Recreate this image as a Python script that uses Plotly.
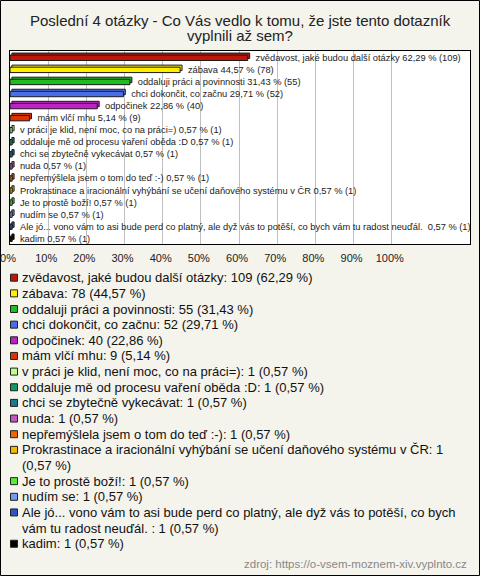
import textwrap
import plotly.graph_objects as go

# ---------------- data ----------------
labels = [
    "zvědavost, jaké budou další otázky",
    "zábava",
    "oddaluji práci a povinnosti",
    "chci dokončit, co začnu",
    "odpočinek",
    "mám vlčí mhu",
    "v práci je klid, není moc, co na práci=)",
    "oddaluje mě od procesu vaření oběda :D",
    "chci se zbytečně vykecávat",
    "nuda",
    "nepřemýšlela jsem o tom do teď :-)",
    "Prokrastinace a iracionální vyhýbání se učení daňového systému v ČR",
    "Je to prostě boží!",
    "nudím se",
    "Ale jó... vono vám to asi bude perd co platný, ale dyž vás to potěší, co bych vám tu radost neuďál. ",
    "kadim",
]
counts = [109, 78, 55, 52, 40, 9, 1, 1, 1, 1, 1, 1, 1, 1, 1, 1]
percents = [62.29, 44.57, 31.43, 29.71, 22.86, 5.14, 0.57, 0.57, 0.57, 0.57,
            0.57, 0.57, 0.57, 0.57, 0.57, 0.57]
colors = ["#c0160a", "#ffee00", "#22bb22", "#4a6ee8", "#c020c8", "#dd3300",
          "#bbff88", "#119966", "#1a7a90", "#c058c0", "#ee6600", "#eebb00",
          "#55ee33", "#7799ee", "#2e55c0", "#000000"]
tick_values = [0, 10, 20, 30, 40, 50, 60, 70, 80, 90, 100]
tick_labels = [f"{v}%" for v in tick_values]
title_lines = ["Poslední 4 otázky - Co Vás vedlo k tomu, že jste tento dotazník",
               "vyplnili až sem?"]
source_text = "zdroj: https://o-vsem-moznem-xiv.vyplnto.cz"

# ---------------- layout helpers ----------------
W, H = 480, 576
PL, PR, PT, PB = 10, 470, 51, 244  # plot area in pixels
DEPTH = 0.5  # 3D depth of bars (in axis units, ~2px)


def xp(px):
    return (px - PL) / (PR - PL)


def yp(py):
    return (PB - py) / (PB - PT)


def fmt(v):
    return f"{v:.2f}".replace(".", ",")


NB = "\u00a0"
bar_text = [f"{NB}{NB}{NB}{l} {fmt(p)}{NB}% ({c})" for l, p, c in zip(labels, percents, counts)]

FONT = "Liberation Sans, Arial, sans-serif"

fig = go.Figure()
# back face (3D depth)
fig.add_trace(go.Bar(
    x=percents,
    y=labels,
    base=DEPTH,
    orientation="h",
    width=0.45,
    offset=-0.33,
    marker=dict(color=colors, line=dict(color="#1a1a1a", width=1)),
    hoverinfo="skip",
    showlegend=False,
))
# front face
fig.add_trace(go.Bar(
    x=percents,
    y=labels,
    orientation="h",
    width=0.45,
    offset=-0.16,
    marker=dict(color=colors, line=dict(color="#1a1a1a", width=1)),
    text=bar_text,
    textposition="outside",
    textfont=dict(family=FONT, size=9.3, color="#222222"),
    constraintext="none",
    cliponaxis=False,
    hoverinfo="skip",
    showlegend=False,
))

shapes = []
annotations = []

# outer frame
shapes.append(dict(type="rect", xref="paper", yref="paper",
                   x0=xp(0.5), x1=xp(W - 0.5), y0=yp(0.5), y1=yp(H - 0.5),
                   line=dict(color="#000000", width=1), layer="below"))

# title
for i, t in enumerate(title_lines):
    annotations.append(dict(text=t, xref="paper", yref="paper", x=xp(240), y=yp(21 + 14.5 * i),
                            xanchor="center", yanchor="middle", showarrow=False,
                            font=dict(family=FONT, size=15, color="#222222")))

# legend (manual)
line_h = 15.65
y0 = 277.7
k = 0
for l, p, c, col in zip(labels, percents, counts, colors):
    entry = f"{l}: {c} ({fmt(p)}{NB}%)"
    lines = textwrap.wrap(entry, width=77, break_on_hyphens=False)
    cy = y0 + line_h * k
    shapes.append(dict(type="rect", xref="paper", yref="paper",
                       x0=xp(10.5), x1=xp(17.5), y0=yp(cy - 3.5), y1=yp(cy + 3.5),
                       fillcolor=col, line=dict(color="#222222", width=1)))
    for j, ln in enumerate(lines):
        annotations.append(dict(text=ln, xref="paper", yref="paper",
                                x=xp(20), y=yp(y0 + line_h * (k + j)),
                                xanchor="left", yanchor="middle", showarrow=False,
                                font=dict(family=FONT, size=13, color="#111111")))
    k += len(lines)

# source
annotations.append(dict(text=source_text, xref="paper", yref="paper", x=xp(469), y=yp(564),
                        xanchor="right", yanchor="middle", showarrow=False,
                        font=dict(family=FONT, size=11.5, color="#888888")))

fig.update_layout(
    width=W, height=H,
    margin=dict(l=PL, r=W - PR, t=PT, b=H - PB, pad=0, autoexpand=False),
    paper_bgcolor="#f4f3ec",
    plot_bgcolor="#ffffff",
    barmode="overlay",
    shapes=shapes,
    annotations=annotations,
    xaxis=dict(range=[0, 120.5], tickmode="array", tickvals=tick_values, ticktext=tick_labels,
               showgrid=True, gridcolor="#c0c0c0", gridwidth=1, zeroline=False,
               showline=True, mirror=True, linecolor="#000000", linewidth=1,
               ticks="", ticklabelshift=-2, ticklabelstandoff=4, automargin=False,
               tickfont=dict(family=FONT, size=11, color="#222222"), fixedrange=True),
    yaxis=dict(autorange="reversed", showticklabels=False, showgrid=False,
               showline=True, mirror=True, linecolor="#000000", linewidth=1,
               ticks="", fixedrange=True, automargin=False),
    font=dict(family=FONT),
)

fig.write_html("out.html",
               config={"displayModeBar": False},
               post_script="document.body.style.margin='0';document.body.style.overflow='hidden';")
